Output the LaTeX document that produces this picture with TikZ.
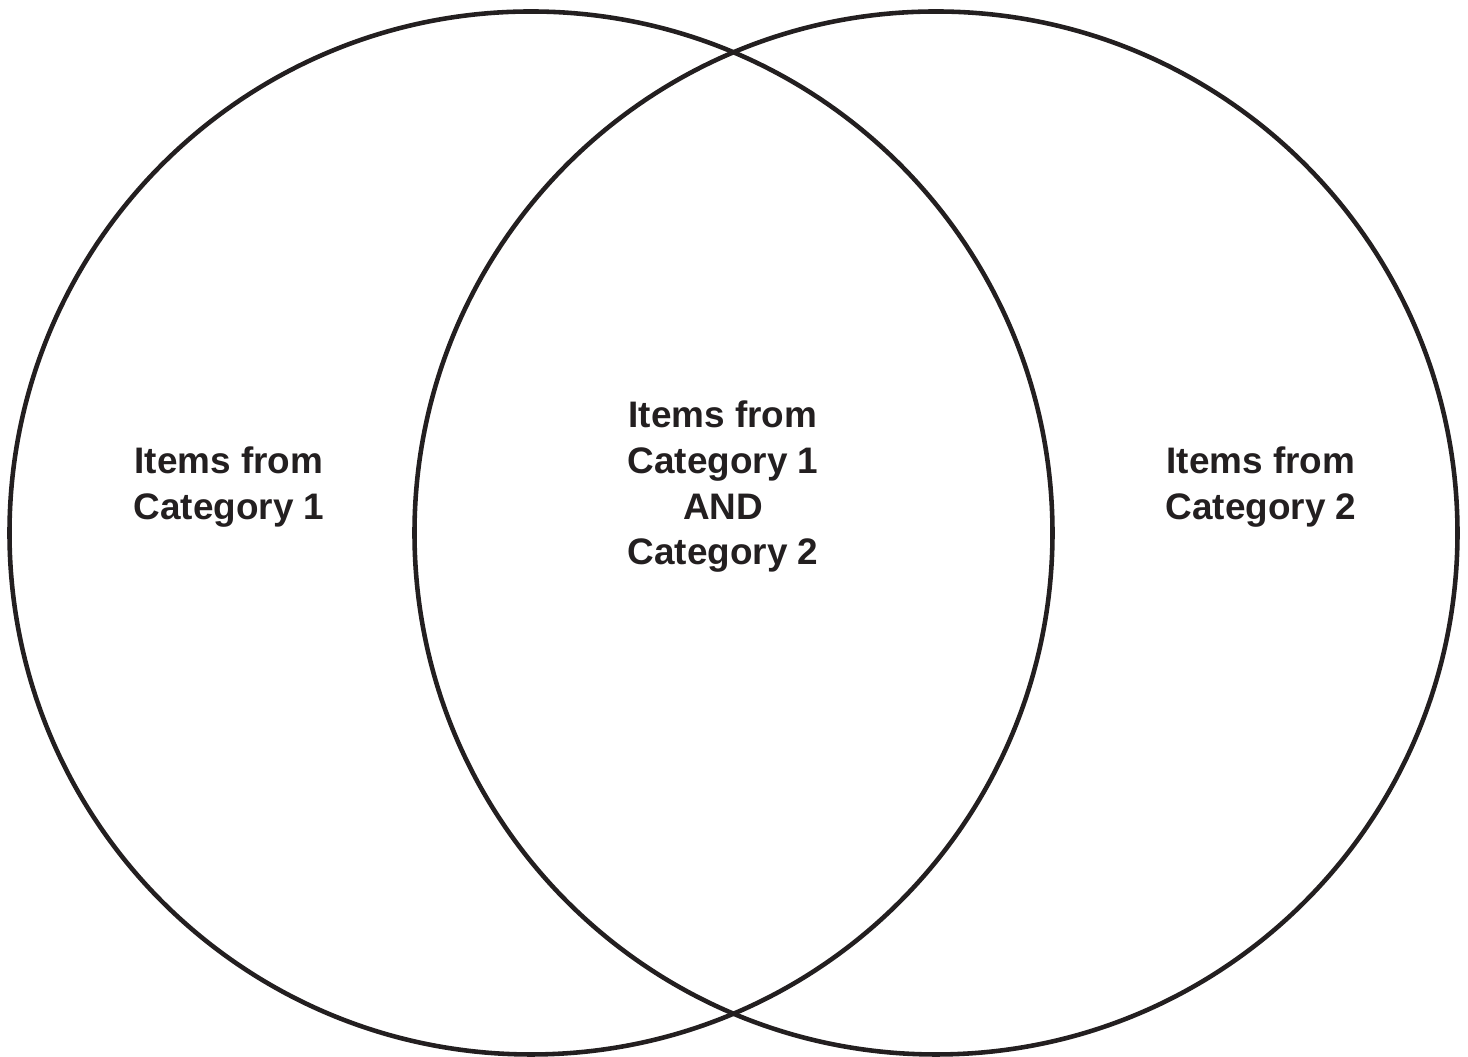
\documentclass[tikz,border=0pt]{standalone}
\usepackage{fontspec}
\setmainfont{Liberation Sans}
\definecolor{inkblack}{HTML}{231F20}

\begin{document}
\begin{tikzpicture}[set/.style = {draw=inkblack, circle, line width=1.3pt, minimum size=10.43cm, inner sep=0pt},
    label/.style = {align=center, text=inkblack, font=\fontsize{10.5}{13}\selectfont\bfseries}]

    \useasboundingbox (0, 0) rectangle (14.68, 10.57);

    \node[set] (cat1) at (5.31, 5.24) {};
    \node[set] (cat2) at (9.36, 5.24) {};

    \node[label] (only1) at (2.29, 5.70) {Items from\\Category 1};
    \node[label] (both) at (7.23, 5.70) {Items from\\Category 1\\AND\\Category 2};
    \node[label] (only2) at (12.61, 5.70) {Items from\\Category 2};

\end{tikzpicture}
\end{document}
